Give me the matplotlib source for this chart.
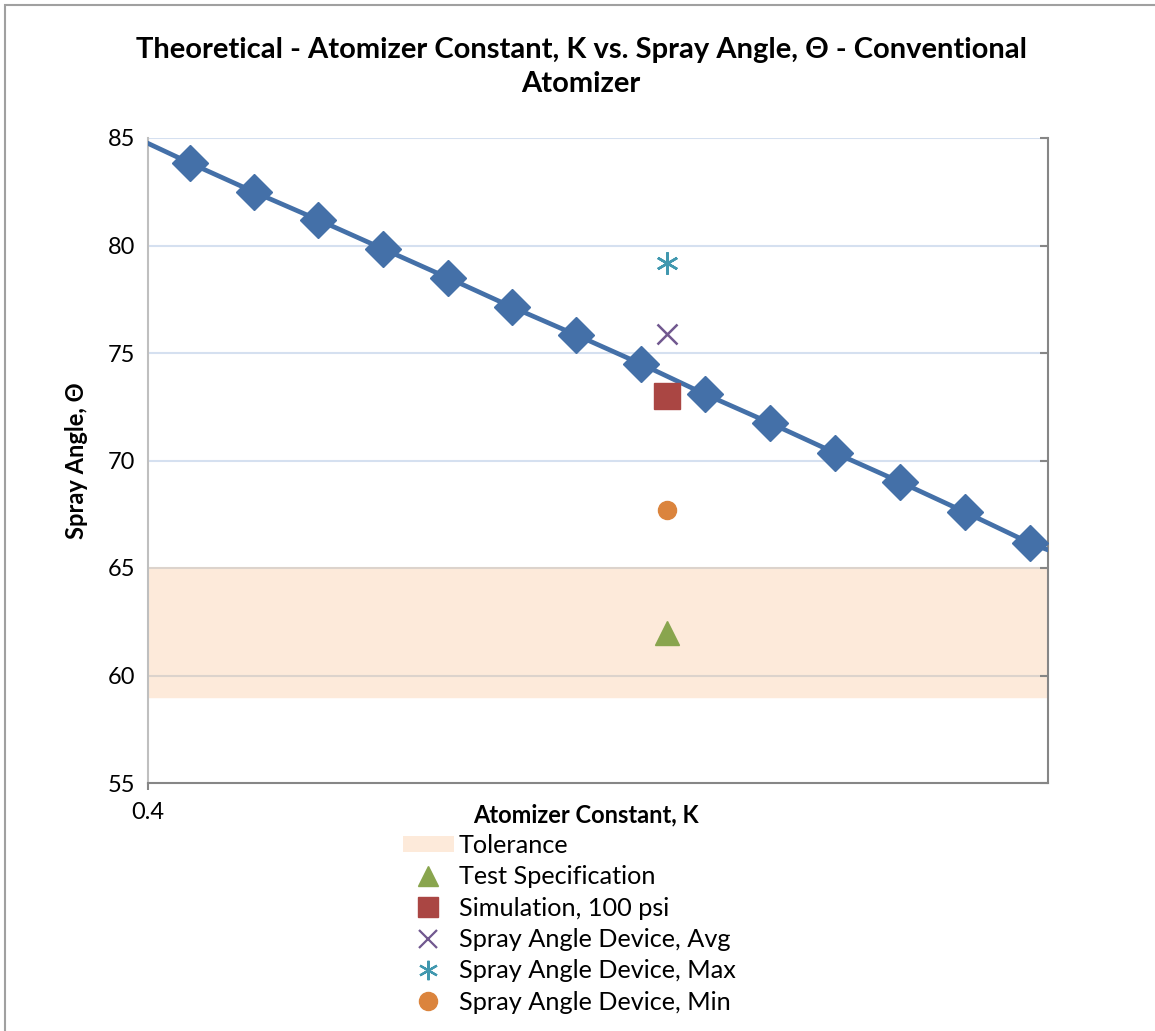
import matplotlib
matplotlib.use("Agg")
import matplotlib.pyplot as plt
from matplotlib.patches import Rectangle, Patch
from matplotlib.lines import Line2D

plt.rcParams['font.family'] = ['Lato', 'DejaVu Sans']

# theoretical curve (markers) and full-width line
k_theory = [0.465, 0.565, 0.665, 0.766, 0.867, 0.966, 1.066,
            1.167, 1.266, 1.368, 1.469, 1.570, 1.671, 1.772]
theta_theory = [83.84, 82.49, 81.19, 79.84, 78.49, 77.14, 75.84,
                74.49, 73.09, 71.74, 70.35, 69.00, 67.60, 66.16]
k_line = [0.4] + k_theory + [1.8]
theta_line = [84.75] + theta_theory + [65.84]

# measured / spec points (all at the same K)
k_device = 1.207
spec_theta = 62.0
sim_theta = 73.0
avg_theta = 75.9
max_theta = 79.2
min_theta = 67.7

tol_low, tol_high = 59.0, 65.0

fig = plt.figure(figsize=(11.55, 10.31), dpi=100)
ax = fig.add_axes([148/1155, 1-783/1031, 900/1155, 645/1031])

ax.axhspan(tol_low, tol_high, color='#FDEADA', zorder=0)
for y in [60, 65, 70, 75, 80, 85]:
    c = '#DCD3CC' if y <= 65 else '#D5E0F0'
    ax.axhline(y, color=c, lw=1.5, zorder=1)

ax.plot(k_line, theta_line, color='#4470A8', lw=3.4, zorder=3)
ax.plot(k_theory, theta_theory, ls='none', marker='D', ms=18,
        color='#4470A8', zorder=4)

ax.plot([k_device], [spec_theta], ls='none', marker='^', ms=17, color='#89A54E', zorder=5)
ax.plot([k_device], [sim_theta], ls='none', marker='s', ms=19, color='#AA4643', zorder=5)
ax.plot([k_device], [avg_theta], ls='none', marker='x', ms=14, mew=1.8, color='#71588F', zorder=5)
ax.plot([k_device], [max_theta], ls='none', marker=(6, 2, 0), ms=16, mew=1.8, color='#4198AF', zorder=5)
ax.plot([k_device], [min_theta], ls='none', marker='o', ms=13, color='#DB843D', zorder=5)

ax.set_xlim(0.4, 1.8)
ax.set_ylim(55, 85)
ax.set_xticks([0.4])
ax.set_xticklabels(['0.4'])
ax.set_yticks([55, 60, 65, 70, 75, 80, 85])

ax.spines['top'].set_visible(False)
ax.spines['left'].set_color('#BFBFBF')
ax.spines['left'].set_linewidth(1.5)
ax.spines['bottom'].set_color('#868686')
ax.spines['bottom'].set_linewidth(1.5)
ax.spines['right'].set_color('#868686')
ax.spines['right'].set_linewidth(1.5)

ax.tick_params(axis='y', left=False, right=True, direction='in', length=6,
               color='#868686', width=1.5, labelsize=17, pad=9)
ax.tick_params(axis='x', direction='out', length=5, color='#868686', width=1.5,
               labelsize=17, pad=9)

fig.text(76/1155, 1-461/1031, 'Spray Angle, Θ', rotation=90, ha='center', va='center',
         fontsize=17, fontweight='bold')
fig.text(586/1155, 1-815/1031, 'Atomizer Constant, K', ha='center', va='center',
         fontsize=17, fontweight='bold')
fig.text(581/1155, 1-67/1031,
         'Theoretical - Atomizer Constant, K vs. Spray Angle, Θ - Conventional\nAtomizer',
         ha='center', va='center', fontsize=21, fontweight='bold', linespacing=1.4)

handles = [
    Patch(facecolor='#FDEADA', edgecolor='none'),
    Line2D([], [], ls='none', marker='^', ms=14, color='#89A54E'),
    Line2D([], [], ls='none', marker='s', ms=14, color='#AA4643'),
    Line2D([], [], ls='none', marker='x', ms=13, mew=1.6, color='#71588F'),
    Line2D([], [], ls='none', marker=(6, 2, 0), ms=14, mew=1.6, color='#4198AF'),
    Line2D([], [], ls='none', marker='o', ms=13, color='#DB843D'),
]
labels = ['Tolerance', 'Test Specification', 'Simulation, 100 psi',
          'Spray Angle Device, Avg', 'Spray Angle Device, Max', 'Spray Angle Device, Min']
fig.legend(handles, labels, loc='upper left', bbox_to_anchor=(403/1155, 1-834/1031),
           frameon=False, fontsize=18.2, handlelength=2.0, handleheight=0.55,
           handletextpad=0.2, labelspacing=0.33, borderaxespad=0, borderpad=0)

fig.patches.append(Rectangle((5/1155, -0.1), 1.2, 1-5/1031+0.1, transform=fig.transFigure,
                             fill=False, edgecolor='#A0A0A0', lw=1.5))

fig.savefig('out.png', dpi=100)
